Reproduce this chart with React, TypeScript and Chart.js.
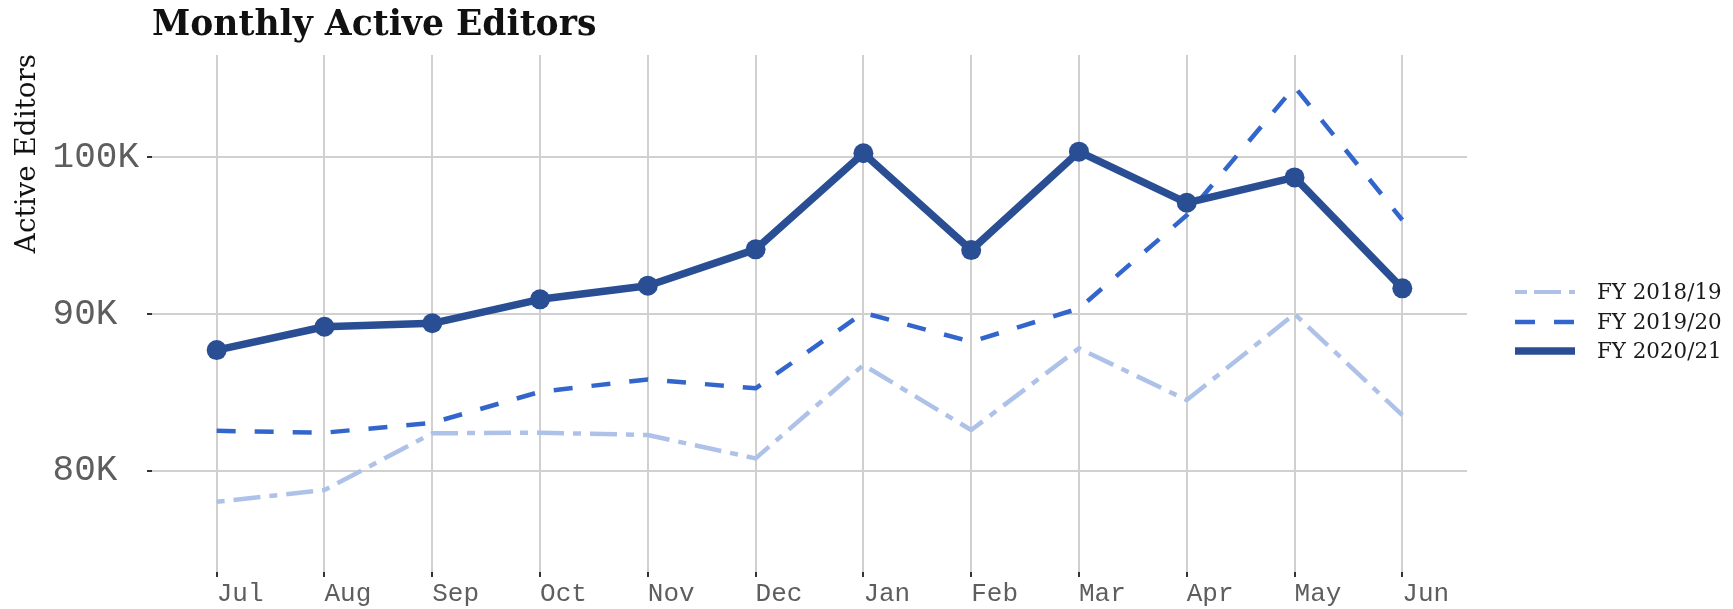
import React, { useEffect, useRef } from "react";
import { Chart, registerables } from "chart.js";

Chart.register(...registerables);

const months = ["Jul", "Aug", "Sep", "Oct", "Nov", "Dec", "Jan", "Feb", "Mar", "Apr", "May", "Jun"];
const fy1819 = [78020, 78770, 82390, 82430, 82280, 80790, 86750, 82600, 87810, 84510, 90000, 83550];
const fy1920 = [82550, 82430, 83060, 85040, 85830, 85260, 90080, 88230, 90360, 96300, 104500, 96000];
const fy2021 = [87700, 89190, 89410, 90940, 91810, 94130, 100260, 94080, 100360, 97100, 98720, 91640];
const yTickValues = [80000, 90000, 100000];
const yTickLabels = ["80K", "90K", "100K"];
const seriesLabels = ["FY 2018/19", "FY 2019/20", "FY 2020/21"];
const titleText = "Monthly Active Editors";
const yTitleText = "Active Editors";

const COLORS = ["#aec2e9", "#3366cc", "#2a4e94"];

const toXY = (arr: number[]) => arr.map((v, i) => ({ x: i, y: v }));

const annotationsPlugin = {
  id: "customText",
  afterDraw(chart: any) {
    const ctx = chart.ctx as CanvasRenderingContext2D;
    ctx.save();
    // Title
    ctx.fillStyle = "#111";
    ctx.font = 'bold 34.6px "DejaVu Serif", serif';
    ctx.textAlign = "left";
    ctx.textBaseline = "alphabetic";
    ctx.fillText(titleText, 152, 34.5);

    // Y axis title (rotated, aligned to top)
    ctx.save();
    ctx.translate(35, 54);
    ctx.rotate(-Math.PI / 2);
    ctx.font = '27.8px "DejaVu Serif", serif';
    ctx.textAlign = "right";
    ctx.fillStyle = "#111";
    ctx.fillText(yTitleText, 0, 0);
    ctx.restore();

    // Legend
    const rows = [
      { y: 292, base: 299, width: 4, dash: [12, 7, 27, 8] },
      { y: 322, base: 328.5, width: 4.5, dash: [20, 19] },
      { y: 351, base: 358, width: 7.5, dash: [] as number[] },
    ];
    rows.forEach((r, i) => {
      ctx.beginPath();
      ctx.setLineDash(r.dash);
      ctx.lineCap = "butt";
      ctx.strokeStyle = COLORS[i];
      ctx.lineWidth = r.width;
      ctx.moveTo(1515, r.y);
      ctx.lineTo(1575, r.y);
      ctx.stroke();
      ctx.setLineDash([]);
      ctx.font = '21.4px "DejaVu Serif", serif';
      ctx.fillStyle = "#1a1a1a";
      ctx.textAlign = "left";
      ctx.textBaseline = "alphabetic";
      ctx.fillText(seriesLabels[i], 1597, r.base);
    });
    ctx.restore();
  },
};

export default function App() {
  const ref = useRef<HTMLCanvasElement | null>(null);

  useEffect(() => {
    if (!ref.current) return;
    const gridCommon = {
      color: "#d0d0d0",
      lineWidth: 2,
      drawTicks: true,
      tickLength: 5,
      tickColor: "#333333",
      tickWidth: 2,
    };
    const chart = new Chart(ref.current, {
      type: "line",
      data: {
        datasets: [
          {
            label: seriesLabels[2],
            data: toXY(fy2021),
            borderColor: COLORS[2],
            backgroundColor: COLORS[2],
            borderWidth: 7.5,
            pointRadius: 10,
            pointBorderWidth: 0,
            pointBackgroundColor: COLORS[2],
            borderJoinStyle: "round",
            borderCapStyle: "butt",
            tension: 0,
            order: 0,
          },
          {
            label: seriesLabels[1],
            data: toXY(fy1920),
            borderColor: COLORS[1],
            backgroundColor: COLORS[1],
            borderWidth: 4.5,
            borderDash: [19, 19],
            pointRadius: 0,
            borderJoinStyle: "round",
            borderCapStyle: "butt",
            tension: 0,
            order: 1,
          },
          {
            label: seriesLabels[0],
            data: toXY(fy1819),
            borderColor: COLORS[0],
            backgroundColor: COLORS[0],
            borderWidth: 4.5,
            borderDash: [8, 9, 27, 9],
            pointRadius: 0,
            borderJoinStyle: "round",
            borderCapStyle: "butt",
            tension: 0,
            order: 2,
          },
        ] as any,
      },
      options: {
        animation: false,
        responsive: false,
        devicePixelRatio: 1,
        layout: { padding: { left: 0, top: 55, right: 266, bottom: 0 } },
        plugins: {
          legend: { display: false },
          title: { display: false },
          tooltip: { enabled: false },
        },
        scales: {
          x: {
            type: "linear",
            min: -0.6,
            max: 11.6,
            afterBuildTicks: (s: any) => {
              s.ticks = months.map((_, i) => ({ value: i }));
            },
            afterFit: (s: any) => {
              s.height = 37;
            },
            grid: gridCommon as any,
            border: { display: false },
            ticks: {
              align: "start",
              padding: 2,
              maxRotation: 0,
              minRotation: 0,
              autoSkip: false,
              color: "#5e5e5e",
              font: { family: '"Liberation Mono", monospace', size: 26 },
              callback: (v: any) => months[Math.round(Number(v))] ?? "",
            },
          },
          y: {
            type: "linear",
            min: 73540,
            max: 106530,
            afterBuildTicks: (s: any) => {
              s.ticks = yTickValues.map((v) => ({ value: v }));
            },
            afterFit: (s: any) => {
              s.width = 152;
            },
            grid: gridCommon as any,
            border: { display: false },
            ticks: {
              padding: 8,
              color: "#5e5e5e",
              font: { family: '"Liberation Mono", monospace', size: 36 },
              callback: (v: any) => {
                const i = yTickValues.indexOf(Number(v));
                return i >= 0 ? yTickLabels[i].padEnd(4, " ") : "";
              },
            },
          },
        },
      } as any,
      plugins: [annotationsPlugin],
    });
    return () => chart.destroy();
  }, []);

  return (
    <div style={{ position: "fixed", left: 0, top: 0, width: 1733, height: 609, background: "#fff" }}>
      <canvas ref={ref} width={1733} height={609} style={{ display: "block" }} />
    </div>
  );
}
